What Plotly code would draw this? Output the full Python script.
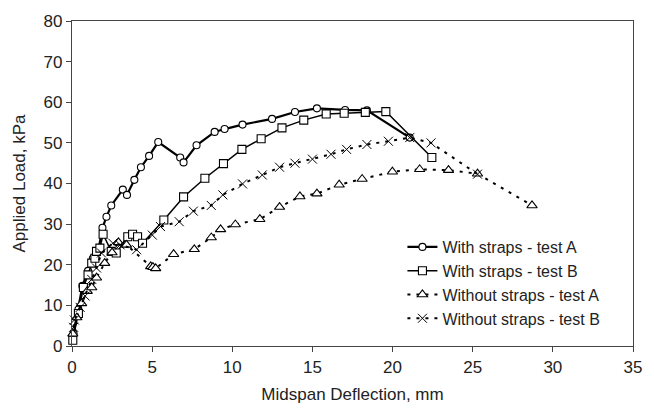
import plotly.graph_objects as go

# Load-deflection test results (deflection in mm, applied load in kPa)
straps_a_defl = [0.1, 0.4, 0.65, 1.0, 1.3, 1.63, 1.9, 2.15, 2.45, 3.17, 3.43, 3.89, 4.3,
                 4.81, 5.38, 6.75, 6.96, 7.77, 8.9, 9.52, 10.64, 12.48, 13.91, 15.28,
                 17.04, 18.4, 21.07]
straps_a_load = [3.0, 9.0, 14.8, 18.5, 21.5, 23.3, 29.1, 31.8, 34.6, 38.5, 37.2, 40.9, 44.0,
                 46.8, 50.2, 46.4, 45.2, 49.4, 52.7, 53.4, 54.5, 55.9, 57.6, 58.5,
                 58.1, 58.0, 51.3]

straps_b_defl = [0.05, 0.4, 0.71, 1.0, 1.23, 1.43, 1.53, 1.74, 1.94, 2.45, 2.76, 3.48, 3.78,
                 4.09, 4.4, 5.73, 6.96, 8.29, 9.45, 10.6, 11.8, 13.1, 14.46, 15.86,
                 16.98, 18.3, 19.58, 22.45]
straps_b_load = [1.4, 8.0, 14.4, 17.5, 20.4, 21.6, 23.3, 24.1, 27.5, 23.3, 22.9, 26.9, 27.5,
                 26.9, 25.3, 31.0, 36.7, 41.3, 44.9, 48.4, 51.0, 53.7, 55.6, 57.1,
                 57.3, 57.5, 57.7, 46.4]

nostraps_a_defl = [0.05, 0.3, 0.6, 0.95, 1.23, 1.53, 2.04, 2.5, 2.9, 3.4, 4.91, 5.05, 5.22,
                   6.34, 7.63, 8.69, 9.27, 10.19, 11.72, 12.95, 14.22, 15.28, 16.67,
                   18.1, 19.99, 21.69, 23.49, 25.3, 28.7]
nostraps_a_load = [3.0, 7.0, 10.5, 13.5, 14.4, 16.8, 20.4, 23.0, 25.5, 24.9, 19.6, 19.4, 19.1,
                   22.6, 23.8, 26.7, 28.7, 29.9, 31.2, 34.2, 36.8, 37.5, 39.7,
                   41.1, 42.9, 43.5, 43.3, 42.4, 34.6]

nostraps_b_defl = [0.1, 0.15, 0.51, 0.82, 1.23, 1.53, 1.84, 2.55, 3.0, 4.03, 5.01, 5.52, 6.69,
                   7.57, 8.69, 9.41, 10.64, 11.87, 12.95, 13.91, 15.0, 16.16, 17.13,
                   18.4, 19.74, 21.07, 22.4, 25.3]
nostraps_b_load = [4.6, 6.4, 9.5, 12.3, 16.4, 19.2, 22.9, 25.3, 24.9, 23.7, 27.3, 29.4, 30.6,
                   33.2, 34.6, 37.2, 39.9, 42.1, 44.0, 45.0, 46.0, 47.2, 48.4,
                   49.6, 50.4, 51.3, 50.0, 42.3]

x_ticks = [0, 5, 10, 15, 20, 25, 30, 35]
y_ticks = [0, 10, 20, 30, 40, 50, 60, 70, 80]

FONT = "Arial, Liberation Sans, sans-serif"
INK = "#222222"

fig = go.Figure()

fig.add_trace(go.Scatter(
    x=straps_a_defl, y=straps_a_load, mode="lines+markers",
    name="With straps - test A",
    line=dict(color="black", width=2.2),
    marker=dict(symbol="circle", size=7, color="white",
                line=dict(color="black", width=1.1)),
    cliponaxis=False,
))
fig.add_trace(go.Scatter(
    x=straps_b_defl, y=straps_b_load, mode="lines+markers",
    name="With straps - test B",
    line=dict(color="black", width=1.5),
    marker=dict(symbol="square", size=8, color="white",
                line=dict(color="black", width=1.1)),
    cliponaxis=False,
))
fig.add_trace(go.Scatter(
    x=nostraps_a_defl, y=nostraps_a_load, mode="lines+markers",
    name="Without straps - test A",
    line=dict(color="black", width=2, dash="3px,6px"),
    marker=dict(symbol="triangle-up", size=9, color="white",
                line=dict(color="black", width=1.1)),
    cliponaxis=False,
))
fig.add_trace(go.Scatter(
    x=nostraps_b_defl, y=nostraps_b_load, mode="lines+markers",
    name="Without straps - test B",
    line=dict(color="black", width=2, dash="3px,6px"),
    marker=dict(symbol="x-thin-open", size=9, color="black",
                line=dict(color="black", width=1.0)),
    cliponaxis=False,
))

axis_common = dict(
    showgrid=False, zeroline=False,
    showline=True, linecolor="#444444", linewidth=1.3, mirror=True,
    ticks="outside", ticklen=5, tickwidth=1.2, tickcolor="#444444",
    tickfont=dict(family=FONT, size=17, color=INK),
)

fig.update_layout(
    width=654, height=414,
    margin=dict(l=72, r=12, t=17, b=68),
    paper_bgcolor="white", plot_bgcolor="white",
    font=dict(family=FONT, color=INK),
    xaxis=dict(
        range=[0, 35], tickvals=x_ticks,
        title=dict(text="Midspan Deflection, mm", font=dict(family=FONT, size=17, color=INK),
                   standoff=12),
        **axis_common,
    ),
    yaxis=dict(
        range=[0, 80], tickvals=y_ticks,
        title=dict(text="Applied Load, kPa", font=dict(family=FONT, size=17, color=INK),
                   standoff=13),
        **axis_common,
    ),
    legend=dict(
        x=0.589, y=0.357, xanchor="left", yanchor="top",
        bgcolor="rgba(0,0,0,0)", borderwidth=0,
        font=dict(family=FONT, size=16, color=INK),
        tracegroupgap=0,
    ),
    showlegend=True,
)

fig.write_html("out.html")
